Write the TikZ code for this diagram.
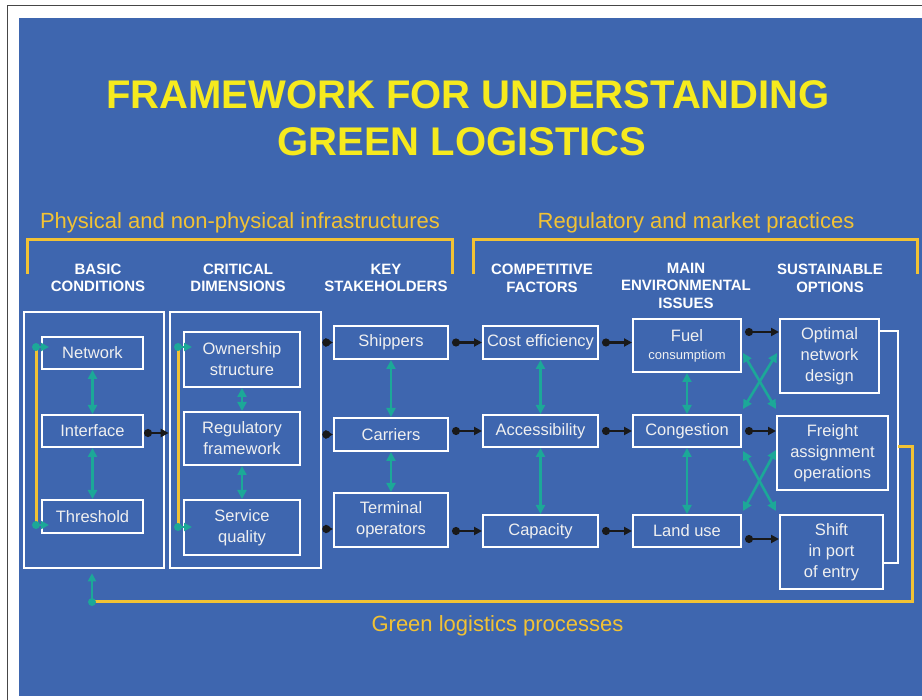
\documentclass[tikz,border=0pt]{standalone}
\usepackage{fontspec}
\setmainfont{Liberation Sans}
\usetikzlibrary{arrows.meta,calc}
\definecolor{bgblue}{RGB}{62,102,175}
\definecolor{titleyellow}{RGB}{246,234,30}
\definecolor{gold}{RGB}{242,194,52}
\definecolor{tealc}{RGB}{28,168,152}
\definecolor{framec}{RGB}{70,70,70}
\definecolor{boxtext}{RGB}{240,240,240}
\tikzset{
  box/.style={draw=white, line width=2pt, text=boxtext, font=\fontsize{16.5}{21}\selectfont, align=center, inner sep=0pt},
  outerbox/.style={draw=white, line width=2.6pt, inner sep=0pt},
  hdr/.style={text=white, font=\fontsize{15}{17.5}\selectfont\bfseries, align=center, inner sep=0pt},
  lab/.style={text=gold, font=\fontsize{22}{26}\selectfont, inner sep=0pt},
  ttl/.style={text=titleyellow, font=\fontsize{40}{47}\selectfont\bfseries, inner sep=0pt},
  blk/.style={draw=black!90, line width=2.2pt, {Circle[length=8pt,width=8pt]}-{Triangle[length=8pt,width=8pt]}},
  tl/.style={draw=tealc, line width=2.6pt, {Triangle[length=9pt,width=9pt]}-{Triangle[length=9pt,width=9pt]}},
  tls/.style={draw=tealc, line width=2.6pt, -{Triangle[length=8pt,width=8pt]}},
  yl/.style={draw=gold, line width=3pt},
  wl/.style={draw=white, line width=2.4pt},
  tdot/.style={fill=tealc}
}
\begin{document}
\begin{tikzpicture}[x=1pt,y=-1pt]
\useasboundingbox (0,0) rectangle (922,700);
\fill[white] (0,0) rectangle (922,700);
\draw[framec, line width=1pt] (7,700) -- (7,6) -- (922,6);
\fill[bgblue] (19,18) rectangle (922,696);

% title
\node[ttl] (title1) at (468,95) {FRAMEWORK FOR UNDERSTANDING};
\node[ttl] (title2) at (462,142) {GREEN LOGISTICS};

% section labels
\node[lab] (lphys) at (240,223) {Physical and non-physical infrastructures};
\node[lab] (lreg) at (696,223) {Regulatory and market practices};
\node[lab] (lgreen) at (497.5,626) {Green logistics processes};

% brackets
\draw[yl] (27,274) -- (27,240) -- (452,240) -- (452,274);
\draw[yl] (473,274) -- (473,240) -- (917,240) -- (917,274);

% headers
\node[hdr] (hbasic) at (98,278) {BASIC\\CONDITIONS};
\node[hdr] (hcrit) at (238,278) {CRITICAL\\DIMENSIONS};
\node[hdr] (hkey) at (386,278) {KEY\\STAKEHOLDERS};
\node[hdr] (hcomp) at (542,278.5) {COMPETITIVE\\FACTORS};
\node[hdr] (hmain) at (686,285.5) {MAIN\\ENVIRONMENTAL\\ISSUES};
\node[hdr] (hsust) at (830,278.5) {SUSTAINABLE\\OPTIONS};

% outer boxes
\node[outerbox, minimum width=140pt, minimum height=256pt] (b1) at (94,440) {};
\node[outerbox, minimum width=151pt, minimum height=256pt] (b2) at (245.5,440) {};

% column 1
\node[box, minimum width=101pt, minimum height=32pt] (network) at (92.5,353) {Network};
\node[box, minimum width=101pt, minimum height=32pt] (interface) at (92.5,431) {Interface};
\node[box, minimum width=101pt, minimum height=33pt] (threshold) at (92.5,516.5) {Threshold};
% column 2
\node[box, minimum width=116pt, minimum height=55pt] (owner) at (242,359.5) {Ownership\\structure};
\node[box, minimum width=116pt, minimum height=53pt] (regul) at (242,438.5) {Regulatory\\framework};
\node[box, minimum width=116pt, minimum height=55pt] (service) at (242,527.5) {Service\\quality};
% column 3
\node[box, minimum width=114pt, minimum height=33pt] (shippers) at (391,342.5) {Shippers};
\node[box, minimum width=114pt, minimum height=33pt] (carriers) at (391,434.5) {Carriers};
\node[box, minimum width=114pt, minimum height=54pt] (terminal) at (391,520) {Terminal\\operators};
% column 4
\node[box, minimum width=115pt, minimum height=33pt] (cost) at (540.5,342.5) {Cost efficiency};
\node[box, minimum width=115pt, minimum height=32pt] (access) at (540.5,431) {Accessibility};
\node[box, minimum width=115pt, minimum height=32pt] (capacity) at (540.5,531) {Capacity};
% column 5
\node[box, minimum width=108pt, minimum height=53pt] (fuel) at (687,345.5) {Fuel\\[-3pt]{\fontsize{13}{15}\selectfont consumptiom}};
\node[box, minimum width=108pt, minimum height=32pt] (congest) at (687,431) {Congestion};
\node[box, minimum width=108pt, minimum height=32pt] (landuse) at (687,531) {Land use};
% column 6
\node[box, minimum width=99pt, minimum height=74pt] (optimal) at (829.5,356) {Optimal\\network\\design};
\node[box, minimum width=111pt, minimum height=74pt] (freight) at (832.5,453) {Freight\\assignment\\operations};
\node[box, minimum width=103pt, minimum height=74pt] (shift) at (831.5,552) {Shift\\in port\\of entry};

% yellow internal lines with teal dots
\coordinate (y1t) at (36,347);
\coordinate (y1b) at (36,525);
\coordinate (y2t) at (178,347);
\coordinate (y2b) at (178,527);
\draw[yl] (y1t) -- (y1b);
\draw[yl] (y2t) -- (y2b);
\draw[tls] (y1t) -- ($(network.west |- y1t)+(8,0)$);
\draw[tls] (y1b) -- ($(threshold.west |- y1b)+(8,0)$);
\draw[tls] (y2t) -- ($(owner.west |- y2t)+(9,0)$);
\draw[tls] (y2b) -- ($(service.west |- y2b)+(9,0)$);
\foreach \c in {y1t,y1b,y2t,y2b} \fill[tdot] (\c) circle (4pt);

% teal vertical links
\draw[tl] (network.south) -- (interface.north);
\draw[tl] (interface.south) -- (threshold.north);
\draw[tl] (owner.south) -- (regul.north);
\draw[tl] (regul.south) -- (service.north);
\draw[tl] (shippers.south) -- (carriers.north);
\draw[tl] (carriers.south) -- (terminal.north);
\draw[tl] (cost.south) -- (access.north);
\draw[tl] (access.south) -- (capacity.north);
\draw[tl] (fuel.south) -- (congest.north);
\draw[tl] (congest.south) -- (landuse.north);

% teal crossing links
\draw[tl] ($(fuel.east)+(1,7.5)$) -- ($(freight.north west)+(0,-6)$);
\draw[tl] ($(congest.north east)+(1,-5)$) -- ($(optimal.west)+(-2,-3)$);
\draw[tl] ($(congest.south east)+(1,3)$) -- ($(shift.north west)+(-3,-3)$);
\draw[tl] ($(landuse.north east)+(1,-3)$) -- ($(freight.west)+(0,-3)$);

% black arrows
\draw[blk] ($(interface.east)+(0,2)$) -- ($(b2.west |- interface.east)+(0,2)$);
\draw[blk] (b2.east |- shippers) -- (shippers.west);
\draw[blk] (b2.east |- carriers) -- (carriers.west);
\draw[blk] ($(b2.east |- terminal)+(0,9)$) -- ($(terminal.west)+(0,9)$);
\draw[blk, shorten <=3pt] (shippers.east) -- (cost.west);
\draw[blk, shorten <=3pt] (carriers.east |- access) -- (access.west);
\draw[blk, shorten <=3pt] (terminal.east |- capacity) -- (capacity.west);
\draw[blk, shorten <=3pt] (cost.east) -- (cost.east -| fuel.west);
\draw[blk, shorten <=3pt] (access.east) -- (congest.west);
\draw[blk, shorten <=3pt] (capacity.east) -- (landuse.west);
\draw[blk, shorten <=3pt] ($(fuel.north east)+(0,14)$) -- ($(fuel.north east -| optimal.west)+(0,14)$);
\draw[blk, shorten <=3pt] (congest.east) -- (congest.east -| freight.west);
\draw[blk, shorten <=3pt] ($(landuse.east)+(0,8)$) -- ($(landuse.east -| shift.west)+(0,8)$);

% white bracket on the right
\coordinate (wtop) at (898,331);
\coordinate (wbot) at (898,563);
\draw[wl] (optimal.east |- wtop) -- (wtop) -- (wbot) -- (shift.east |- wbot);

% yellow feedback loop
\coordinate (fb1) at (898,447);
\coordinate (fb2) at (912,447);
\coordinate (fb3) at (912,602);
\coordinate (fb4) at (92,602);
\draw[yl] (fb1) -- (fb2) -- (fb3) -- (fb4);
\draw[tls, shorten >=4pt] (fb4) -- (fb4 |- b1.south);
\fill[tdot] (fb4) circle (4pt);
\end{tikzpicture}
\end{document}
